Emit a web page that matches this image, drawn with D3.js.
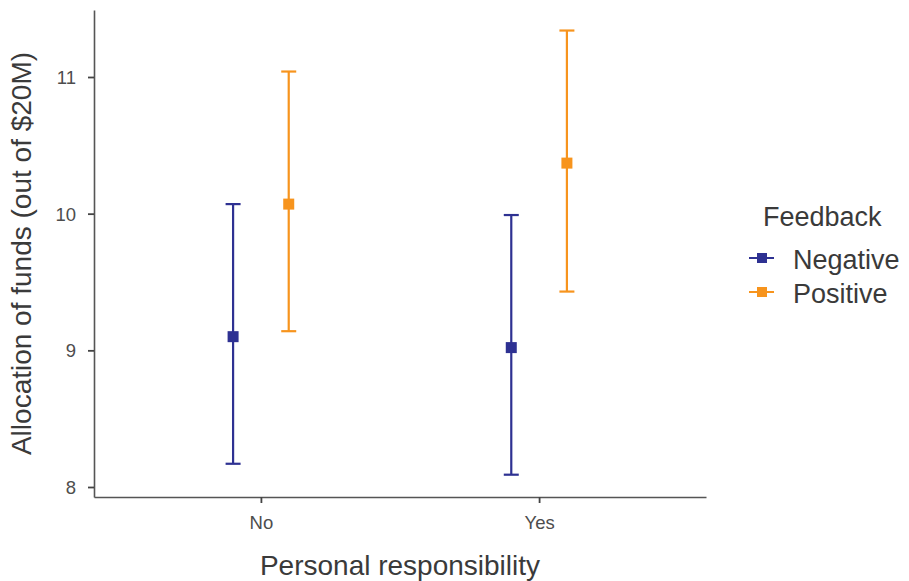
<!DOCTYPE html>
<html><head><meta charset="utf-8">
<script src="https://cdn.jsdelivr.net/npm/d3@7/dist/d3.min.js"></script>
<style>body{margin:0;background:#fff;font-family:"Liberation Sans",Arial,sans-serif}</style>
</head><body><svg id="c" width="909" height="581"></svg>
<script>
const categories = ["No", "Yes"];
const series = ["Negative", "Positive"];
const means = {Negative: [9.10, 9.02], Positive: [10.07, 10.37]};
const lower = {Negative: [8.17, 8.09], Positive: [9.14, 9.43]};
const upper = {Negative: [10.07, 9.99], Positive: [11.04, 11.34]};
const yTicks = [8, 9, 10, 11];
const colors = {Negative: "#2e3192", Positive: "#f7941d"};

(function(){
const svg = d3.select("#c");
const pL = 94, pR = 706, pT = 10, pB = 497;
const x = d3.scaleLinear().domain([0.4, 2.6]).range([pL, pR]);
const y = d3.scaleLinear().domain([8, 11]).range([487, 77]);
const yAxisScale = d3.scaleLinear().domain([y.invert(pB), y.invert(pT)]).range([pB, pT]);
const dodge = {Negative: -0.1, Positive: 0.1};
const FONT = "Liberation Sans, Arial, sans-serif";

const gy = svg.append("g").attr("transform", `translate(${pL},0)`)
  .call(d3.axisLeft(yAxisScale).tickValues(yTicks).tickSizeInner(6).tickSizeOuter(0).tickPadding(12).tickFormat(d3.format("d")));
const gx = svg.append("g").attr("transform", `translate(0,${pB})`)
  .call(d3.axisBottom(x).tickValues([1, 2]).tickSizeInner(6).tickSizeOuter(0).tickPadding(13).tickFormat((d, i) => categories[i]));
[gx, gy].forEach(g => {
  g.select(".domain").attr("stroke", "#555").attr("stroke-width", 1.6);
  g.selectAll(".tick line").attr("stroke", "#444").attr("stroke-width", 1.8);
  g.selectAll(".tick text").attr("fill", "#4d4d4d").style("font-size", "18.5px").style("font-family", FONT);
});
gy.selectAll(".tick text").attr("dy", "0.35em");

series.forEach(s => {
  categories.forEach((c, i) => {
    const cx = x(i + 1 + dodge[s]);
    const g = svg.append("g");
    g.append("line").attr("x1", cx).attr("x2", cx).attr("y1", y(lower[s][i])).attr("y2", y(upper[s][i]))
      .attr("stroke", colors[s]).attr("stroke-width", 2.2);
    [lower[s][i], upper[s][i]].forEach(v => {
      g.append("line").attr("x1", cx - 7.5).attr("x2", cx + 7.5).attr("y1", y(v)).attr("y2", y(v))
        .attr("stroke", colors[s]).attr("stroke-width", 2.2);
    });
    g.append("rect").attr("x", cx - 5.5).attr("y", y(means[s][i]) - 5.5).attr("width", 11).attr("height", 11)
      .attr("fill", colors[s]);
  });
});

svg.append("text").attr("x", (pL + pR) / 2).attr("y", 575).attr("text-anchor", "middle")
  .attr("fill", "#3a3a3a").style("font-size", "28px").style("font-family", FONT).text("Personal responsibility");
svg.append("text").attr("transform", `translate(31,${(pT + pB) / 2}) rotate(-90)`).attr("text-anchor", "middle")
  .attr("fill", "#3a3a3a").style("font-size", "28px").style("font-family", FONT).text("Allocation of funds (out of $20M)");

const lg = svg.append("g");
lg.append("text").attr("x", 763).attr("y", 226).attr("fill", "#3a3a3a").style("font-size", "27px").style("font-family", FONT).text("Feedback");
series.forEach((s, i) => {
  const yy = 258 + i * 34;
  lg.append("line").attr("x1", 749).attr("x2", 774).attr("y1", yy).attr("y2", yy).attr("stroke", colors[s]).attr("stroke-width", 2);
  lg.append("rect").attr("x", 757).attr("y", yy - 5).attr("width", 10).attr("height", 10).attr("fill", colors[s]);
  lg.append("text").attr("x", 793).attr("y", yy + 11).attr("fill", "#3a3a3a").style("font-size", "27px").style("font-family", FONT).text(s);
});
})();
</script></body></html>
